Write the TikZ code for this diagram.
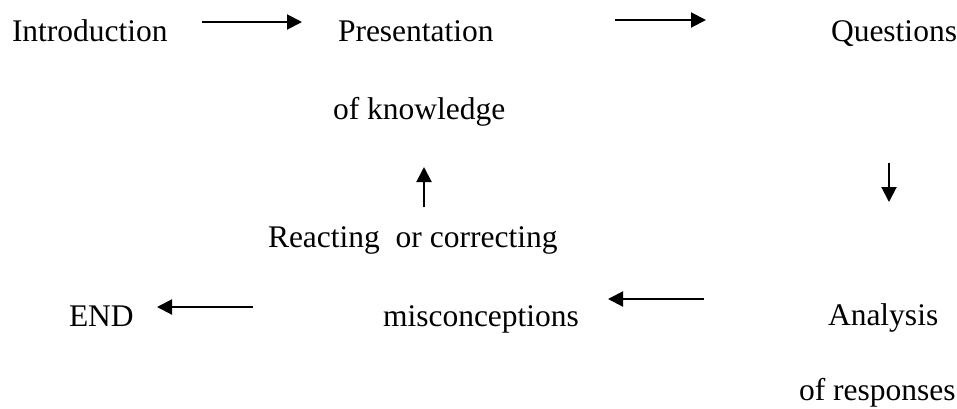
\documentclass[tikz,border=0pt]{standalone}
\usepackage{fontspec}
\setmainfont{Liberation Serif}
\usetikzlibrary{arrows.meta}
\begin{document}
\begin{tikzpicture}[x=1bp,y=-1bp,
  label/.style={anchor=base west,inner sep=0pt,outer sep=0pt,
    font=\fontsize{31.5bp}{38bp}\selectfont},
  flow/.style={line width=2bp,-{Triangle[length=15bp,width=15bp]}}]
  \useasboundingbox (0,0) rectangle (957,408);
  % stages of the lesson
  \node[label] (intro) at (12,41) {Introduction};
  \node[label] (pres)  at (338,41) {Presentation};
  \node[label] (know)  at (333,119) {of knowledge};
  \node[label] (quest) at (831,41) {Questions};
  \node[label] (react) at (268,247) {Reacting\ \ or correcting};
  \node[label] (misc)  at (383,326) {misconceptions};
  \node[label] (anal)  at (828,325) {Analysis};
  \node[label] (resp)  at (799,400) {of responses};
  \node[label] (end)   at (69,326) {END};
  % arrow end points
  \coordinate (a1s) at (202,22);  \coordinate (a1e) at (302,22);
  \coordinate (a2s) at (615,20);  \coordinate (a2e) at (706,20);
  \coordinate (a3s) at (424,207); \coordinate (a3e) at (424,167);
  \coordinate (a4s) at (889,163); \coordinate (a4e) at (889,202);
  \coordinate (a5s) at (704,299); \coordinate (a5e) at (608,299);
  \coordinate (a6s) at (253,307); \coordinate (a6e) at (157,307);
  % flow of the lesson
  \draw[flow] (a1s) -- (a1e);
  \draw[flow] (a2s) -- (a2e);
  \draw[flow] (a3s) -- (a3e);
  \draw[flow] (a4s) -- (a4e);
  \draw[flow] (a5s) -- (a5e);
  \draw[flow] (a6s) -- (a6e);
\end{tikzpicture}
\end{document}
